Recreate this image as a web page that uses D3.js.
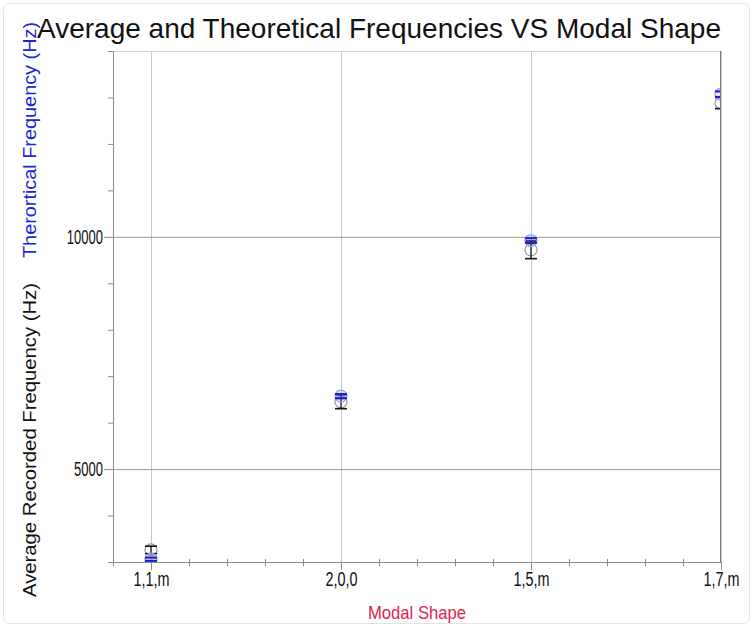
<!DOCTYPE html>
<html>
<head>
<meta charset="utf-8">
<script src="https://cdn.jsdelivr.net/npm/d3@7"></script>
<style>
  body { margin: 0; background: #fff; }
  svg text { font-family: "Liberation Sans", Arial, sans-serif; }
</style>
</head>
<body>
<svg id="chart" width="753" height="627"></svg>
<script>
// values
const categories = ["1,1,m", "2,0,0", "1,5,m", "1,7,m"];
const theoretical = [3060, 6570, 9920, 13070];
const theoreticalErr = [35, 45, 50, 60];
const recorded = [3260, 6450, 9720, 12880];
const recordedErr = [80, 150, 190, 120];
const yMajorTicks = [5000, 10000];

document.addEventListener('DOMContentLoaded', _ => {
  const svg = d3.select("svg#chart");
  const width = +svg.attr("width");
  const height = +svg.attr("height");
  const margins = { "top": 51, "right": 32, "bottom": 65, "left": 113 };
  const chartWidth = width - margins.left - margins.right;
  const chartHeight = height - margins.top - margins.bottom;

  // faint outer frame
  svg.append("rect").attr("x", 3.5).attr("y", 3.5).attr("width", width - 7).attr("height", height - 7)
    .attr("rx", 6).attr("fill", "none").attr("stroke", "#e4e4e4");

  const xScale = d3.scaleLinear().domain([0.8, 4]).range([0, chartWidth]);
  const yScale = d3.scaleLinear().domain([3000, 14000]).range([chartHeight, 0]);

  const condense = (sel, f) => sel.each(function () {
    const w = this.getComputedTextLength();
    d3.select(this).attr("textLength", w * f).attr("lengthAdjust", "spacingAndGlyphs");
  });

  const chart = svg.append("g").attr("transform", `translate(${margins.left},${margins.top})`);

  // top border
  chart.append("line").attr("x1", 0).attr("x2", chartWidth).attr("y1", 0.5).attr("y2", 0.5)
    .attr("stroke", "#d4d4d4");

  // vertical gridlines at categories
  chart.append("g").attr("class", "gridlines")
    .attr("transform", `translate(0,${chartHeight})`)
    .call(d3.axisBottom(xScale).tickValues(categories.map((c, i) => i + 1)).tickFormat("").tickSize(-chartHeight))
    .call(g => g.select(".domain").remove())
    .call(g => g.selectAll("line").attr("stroke", "#c9c9c9"));

  // horizontal gridlines
  chart.append("g").attr("class", "gridlines")
    .call(d3.axisLeft(yScale).tickValues(yMajorTicks).tickFormat("").tickSize(-chartWidth))
    .call(g => g.select(".domain").remove())
    .call(g => g.selectAll("line").attr("stroke", "#9c9c9c"));

  // right border
  chart.append("line").attr("x1", chartWidth - 0.5).attr("x2", chartWidth - 0.5).attr("y1", 0).attr("y2", chartHeight)
    .attr("stroke", "#7a7a7a");

  // x axis: minor ticks every 0.2 crossing the axis, majors with labels
  const minorX = d3.range(4, 21).map(d => d / 5).filter(d => Math.abs(d - Math.round(d)) > 1e-6);
  const xAxis = chart.append("g").attr("class", "x axis").attr("transform", `translate(0,${chartHeight})`);
  xAxis.call(d3.axisBottom(xScale).tickValues(minorX).tickFormat("").tickSizeInner(4).tickSizeOuter(0))
    .call(g => g.select(".domain").attr("stroke", "#8c8c8c"))
    .call(g => g.selectAll(".tick line").attr("y1", -3).attr("stroke", "#8c8c8c"));
  const xMajor = chart.append("g").attr("transform", `translate(0,${chartHeight})`)
    .call(d3.axisBottom(xScale).tickValues(categories.map((c, i) => i + 1))
      .tickFormat(d => categories[d - 1]).tickSize(8).tickPadding(2))
    .call(g => g.select(".domain").remove())
    .call(g => g.selectAll(".tick line").attr("stroke", "#8c8c8c"))
    .call(g => g.selectAll("text").attr("font-size", 20).attr("fill", "#111")
      .attr("font-family", "Liberation Sans, Arial, sans-serif"));
  condense(xMajor.selectAll("text"), 0.72);

  // y axis
  const minorY = d3.range(3000, 14001, 1000).filter(d => !yMajorTicks.includes(d));
  chart.append("g").attr("class", "y axis")
    .call(d3.axisLeft(yScale).tickValues(minorY).tickFormat("").tickSizeInner(5).tickSizeOuter(0))
    .call(g => g.select(".domain").attr("stroke", "#8c8c8c"))
    .call(g => g.selectAll(".tick line").attr("stroke", "#8c8c8c"));
  const yMajor = chart.append("g")
    .call(d3.axisLeft(yScale).tickValues(yMajorTicks).tickFormat(d3.format("d")).tickSize(9).tickPadding(1))
    .call(g => g.select(".domain").remove())
    .call(g => g.selectAll(".tick line").attr("stroke", "#8c8c8c"))
    .call(g => g.selectAll("text").attr("font-size", 20).attr("fill", "#111")
      .attr("font-family", "Liberation Sans, Arial, sans-serif"));
  condense(yMajor.selectAll("text"), 0.65);

  // points, clipped to plot area
  chart.append("clipPath").attr("id", "plotclip")
    .append("rect").attr("x", 0).attr("y", 0).attr("width", chartWidth - 1).attr("height", chartHeight);
  const pts = chart.append("g").attr("clip-path", "url(#plotclip)");
  const data = categories.map((c, i) => ({
    x: i + 1, th: theoretical[i], thErr: theoreticalErr[i], rec: recorded[i], recErr: recordedErr[i]
  }));

  const groups = pts.selectAll("g.pt").data(data).enter().append("g").attr("class", "pt");

  // recorded: grey ring + black error bar
  groups.append("circle")
    .attr("cx", d => xScale(d.x)).attr("cy", d => yScale(d.rec)).attr("r", 6)
    .attr("fill", "rgba(255,255,255,0.3)").attr("stroke", "#9a9a9a").attr("stroke-width", 1.2);
  groups.append("line")
    .attr("x1", d => xScale(d.x)).attr("x2", d => xScale(d.x))
    .attr("y1", d => yScale(d.rec - d.recErr)).attr("y2", d => yScale(d.rec + d.recErr))
    .attr("stroke", "#111").attr("stroke-width", 1.3);
  [-1, 1].forEach(s => {
    groups.append("line")
      .attr("x1", d => xScale(d.x) - 6).attr("x2", d => xScale(d.x) + 6)
      .attr("y1", d => yScale(d.rec + s * d.recErr)).attr("y2", d => yScale(d.rec + s * d.recErr))
      .attr("stroke", "#111").attr("stroke-width", 1.6);
  });

  // theoretical: light blue ring + blue bars
  groups.append("circle")
    .attr("cx", d => xScale(d.x)).attr("cy", d => yScale(d.th)).attr("r", 6)
    .attr("fill", "rgba(120,120,240,0.15)").attr("stroke", "#9aa2e6").attr("stroke-width", 1.2);
  [-1, 1].forEach(s => {
    groups.append("line")
      .attr("x1", d => xScale(d.x) - 6).attr("x2", d => xScale(d.x) + 6)
      .attr("y1", d => yScale(d.th + s * d.thErr)).attr("y2", d => yScale(d.th + s * d.thErr))
      .attr("stroke", "#1f1fd0").attr("stroke-width", 2.2);
  });

  // titles
  svg.append("text").text("Average and Theoretical Frequencies VS Modal Shape")
    .attr("x", 37).attr("y", 38).attr("font-size", 28).attr("fill", "#111")
    .attr("textLength", 684).attr("lengthAdjust", "spacingAndGlyphs");

  svg.append("text").text("Modal Shape")
    .attr("x", 417).attr("y", 619).attr("text-anchor", "middle")
    .attr("font-size", 19).attr("fill", "#e0234e")
    .attr("textLength", 98).attr("lengthAdjust", "spacingAndGlyphs");

  svg.append("text").text("Average Recorded Frequency  (Hz)")
    .attr("transform", "translate(36,597) rotate(-90)")
    .attr("font-size", 18).attr("fill", "#111")
    .attr("textLength", 314).attr("lengthAdjust", "spacingAndGlyphs");

  svg.append("text").text("Therortical Frequency (Hz)")
    .attr("transform", "translate(36,258) rotate(-90)")
    .attr("font-size", 18).attr("fill", "#2323d8")
    .attr("textLength", 236).attr("lengthAdjust", "spacingAndGlyphs");
});
</script>
</body>
</html>
